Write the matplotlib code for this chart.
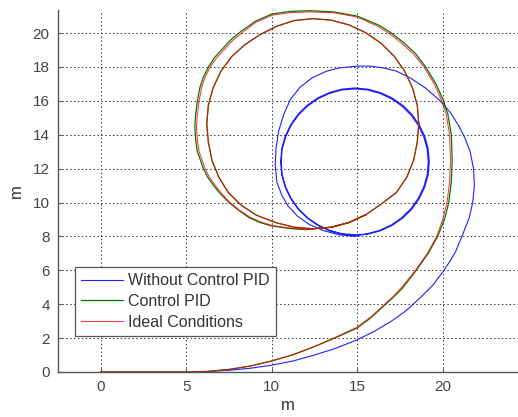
import matplotlib
matplotlib.use("Agg")
import matplotlib.pyplot as plt

plt.rcParams['font.family'] = ['Liberation Sans', 'DejaVu Sans']

# trajectory without PID control: entry curve, first (wide) loop, then the settled loops
nopid_x = [0, 5, 6.25, 7.5, 8.75, 10, 11.25, 12.5, 13.75, 15, 16, 17, 17.9, 18.7, 19.4, 20.0,
           20.4, 20.75, 21.2, 21.55, 21.75, 21.85, 21.8, 21.6, 21.3, 20.95, 20.45, 19.85,
           19.0, 18.1, 17.3, 16.5, 15.7, 15.0, 14.0, 13.2, 12.35, 11.65, 11.1, 10.7, 10.4,
           10.25, 10.2, 10.3, 10.6, 10.95, 11.5, 12.2, 13.0, 13.9, 14.85,
           15.60, 16.32, 17.00, 17.61, 18.14, 18.57, 18.89, 19.09, 19.15, 19.09, 18.89, 18.57,
           18.14, 17.61, 17.00, 16.32, 15.60, 14.85, 14.10, 13.38, 12.70, 12.09, 11.56, 11.13,
           10.81, 10.61, 10.55, 10.61, 10.81, 11.13, 11.56, 12.09, 12.70, 13.38, 14.10, 14.85,
           15.62, 16.35, 17.04, 17.66, 18.2, 18.63, 18.95, 19.15, 19.21, 19.15, 18.95, 18.63,
           18.2, 17.66, 17.04, 16.35, 15.62, 14.86, 14.1, 13.37, 12.69, 12.07, 11.53, 11.1,
           10.78, 10.58, 10.52, 10.58, 10.78, 11.1, 11.53, 12.07, 12.69, 13.37, 14.1, 14.86]
nopid_y = [0, 0, 0.03, 0.1, 0.22, 0.4, 0.65, 1.0, 1.4, 1.9, 2.4, 3.0, 3.65, 4.4, 5.1, 5.9,
           6.5, 7.1, 8.2, 9.1, 10.0, 11.0, 12.0, 13.0, 13.8, 14.5, 15.3, 16.0,
           16.75, 17.35, 17.75, 17.95, 18.05, 18.05, 17.95, 17.75, 17.35, 16.8, 16.1, 15.2, 14.2,
           13.2, 12.2, 11.2, 10.4, 9.8, 9.2, 8.7, 8.35, 8.1, 8.0,
           8.16, 8.36, 8.68, 9.11, 9.64, 10.25, 10.93, 11.65, 12.4, 13.15, 13.87, 14.55,
           15.16, 15.69, 16.12, 16.44, 16.64, 16.7, 16.64, 16.44, 16.12, 15.69, 15.16, 14.55,
           13.87, 13.15, 12.4, 11.65, 10.93, 10.25, 9.64, 9.11, 8.68, 8.36, 8.16, 8.1,
           8.13, 8.33, 8.65, 9.08, 9.62, 10.24, 10.92, 11.65, 12.41, 13.17, 13.9, 14.58,
           15.2, 15.74, 16.17, 16.49, 16.69, 16.76, 16.69, 16.49, 16.17, 15.74, 15.2, 14.58,
           13.9, 13.17, 12.41, 11.65, 10.92, 10.24, 9.62, 9.08, 8.65, 8.33, 8.13, 8.06]

# trajectory with PID control
pid_x = [0, 5, 6.25, 7.5, 8.75, 10, 11.25, 12.5, 13.75, 15, 15.8, 16.5, 17.1, 17.65, 18.45,
         19.15, 19.7, 20.1, 20.35, 20.5, 20.55, 20.5, 20.3, 20.05, 19.6, 19.0, 18.4, 17.7,
         17.0, 16.3, 15.0, 13.6, 12.2, 11.0, 10.0, 9.05, 8.2, 7.6, 7.1, 6.65, 6.3, 6.0,
         5.8, 5.65, 5.55, 5.5, 5.55, 5.65, 6.0, 6.25, 6.6, 7.0, 7.5, 8.05, 8.65, 9.3,
         10.0, 11.0, 12.0,
         12.4, 13.48, 14.52, 15.5, 16.39, 17.3, 17.9, 18.3, 18.51, 18.6, 18.51, 18.23, 17.77,
         17.15, 16.39, 15.5, 14.52, 13.48, 12.4, 11.32, 10.28, 9.3, 8.41, 7.65, 7.03, 6.57,
         6.29, 6.2, 6.29, 6.5, 6.9, 7.45, 8.2, 9.1, 10.28, 11.32, 12.4, 13.48, 14.52, 15.5]
pid_y = [0, 0, 0.03, 0.15, 0.35, 0.65, 1.02, 1.5, 2.03, 2.6, 3.2, 3.85, 4.4, 4.95, 6.0,
         7.0, 8.0, 9.0, 10.0, 11.2, 12.5, 14.0, 15.2, 16.0, 17.0, 18.0, 18.8, 19.45,
         20.0, 20.45, 21.0, 21.25, 21.32, 21.27, 21.12, 20.7, 20.1, 19.6, 19.05, 18.55, 18.0, 17.4,
         16.8, 16.0, 15.2, 14.5, 13.7, 13.0, 12.0, 11.5, 11.0, 10.5, 10.0, 9.55, 9.12, 8.82,
         8.62, 8.47, 8.4,
         8.45, 8.54, 8.82, 9.28, 9.9, 10.6, 11.5, 12.5, 13.57, 14.65, 15.73, 16.77, 17.75,
         18.64, 19.4, 20.02, 20.48, 20.76, 20.85, 20.74, 20.4, 19.9, 19.3, 18.6, 17.75, 16.77,
         15.73, 14.65, 13.57, 12.5, 11.5, 10.6, 9.85, 9.25, 8.8, 8.54, 8.45, 8.54, 8.82, 9.28]

# ideal trajectory
ideal_x = [0, 5, 6.25, 7.5, 8.75, 10, 11.25, 12.5, 13.75, 15, 15.8, 16.5, 17.1, 17.6, 18.4,
           19.1, 19.65, 20.0, 20.25, 20.4, 20.45, 20.4, 20.2, 19.95, 19.5, 18.9, 18.3, 17.6,
           16.9, 16.2, 15.0, 13.6, 12.2, 11.0, 10.0, 9.1, 8.3, 7.7, 7.2, 6.75, 6.4, 6.1,
           5.9, 5.75, 5.65, 5.6, 5.65, 5.75, 6.1, 6.35, 6.7, 7.1, 7.55, 8.1, 8.7, 9.35,
           10.0, 11.0, 12.0,
           12.4, 13.48, 14.52, 15.5, 16.39, 17.3, 17.9, 18.3, 18.51, 18.6, 18.51, 18.23, 17.77,
           17.15, 16.39, 15.5, 14.52, 13.48, 12.4, 11.32, 10.28, 9.3, 8.41, 7.65, 7.03, 6.57,
           6.29, 6.2, 6.29, 6.5, 6.9, 7.45, 8.2, 9.1, 10.28, 11.32, 12.4, 13.48, 14.52, 15.5]
ideal_y = [0, 0, 0.03, 0.15, 0.35, 0.65, 1.02, 1.5, 2.05, 2.65, 3.25, 3.9, 4.45, 5.0, 6.0,
           7.0, 8.0, 9.0, 10.0, 11.2, 12.5, 14.0, 15.2, 16.0, 17.0, 18.0, 18.75, 19.4,
           19.95, 20.4, 20.95, 21.2, 21.25, 21.2, 21.05, 20.65, 20.05, 19.55, 19.0, 18.5, 18.0, 17.4,
           16.8, 16.0, 15.2, 14.5, 13.7, 13.0, 12.0, 11.5, 11.0, 10.5, 10.0, 9.55, 9.15, 8.85,
           8.65, 8.5, 8.42,
           8.45, 8.54, 8.82, 9.28, 9.9, 10.6, 11.5, 12.5, 13.57, 14.65, 15.73, 16.77, 17.75,
           18.64, 19.4, 20.02, 20.48, 20.76, 20.85, 20.74, 20.4, 19.9, 19.3, 18.6, 17.75, 16.77,
           15.73, 14.65, 13.57, 12.5, 11.5, 10.6, 9.85, 9.25, 8.8, 8.54, 8.45, 8.54, 8.82, 9.28]

labels = ["Without Control PID", "Control PID", "Ideal Conditions"]
xticks = [0, 5, 10, 15, 20]
yticks = list(range(0, 21, 2))

fig = plt.figure(figsize=(5.18, 4.17), dpi=100)
ax = fig.add_axes([0.112, 0.108, 0.888, 0.868])

ax.plot(nopid_x, nopid_y, color="#2020ff", lw=0.8, label=labels[0], solid_joinstyle="round")
ax.plot(pid_x, pid_y, color="#007a00", lw=0.9, label=labels[1], solid_joinstyle="round")
ax.plot(ideal_x, ideal_y, color="#ff0000", lw=0.8, alpha=0.75, label=labels[2],
        solid_joinstyle="round")

ax.set_xlim(-2.5, 24.4)
ax.set_ylim(0, 21.36)
ax.set_xticks(xticks)
ax.set_yticks(yticks)
ax.grid(True, color="#333333", linestyle=(0, (1.5, 2.5)), linewidth=0.7)
ax.set_axisbelow(True)

for side in ("top", "right"):
    ax.spines[side].set_visible(False)
for side in ("left", "bottom"):
    ax.spines[side].set_color("#555555")
    ax.spines[side].set_linewidth(1.0)
ax.tick_params(direction="in", length=3, pad=6, colors="#555555", labelcolor="#444444",
               labelsize=11)

ax.set_xlabel("m", fontsize=12, color="#333333", labelpad=3)
ax.set_ylabel("m", fontsize=12, color="#333333", labelpad=6)

leg = ax.legend(loc="lower left", bbox_to_anchor=(0.037, 0.0995), borderaxespad=0,
                fancybox=False, framealpha=1, edgecolor="#555555", fontsize=11.5,
                handlelength=2.6, handletextpad=0.3, labelspacing=0.35, borderpad=0.4)
leg.get_frame().set_linewidth(0.9)
for t in leg.get_texts():
    t.set_color("#333333")

fig.savefig("out.png", dpi=100)
